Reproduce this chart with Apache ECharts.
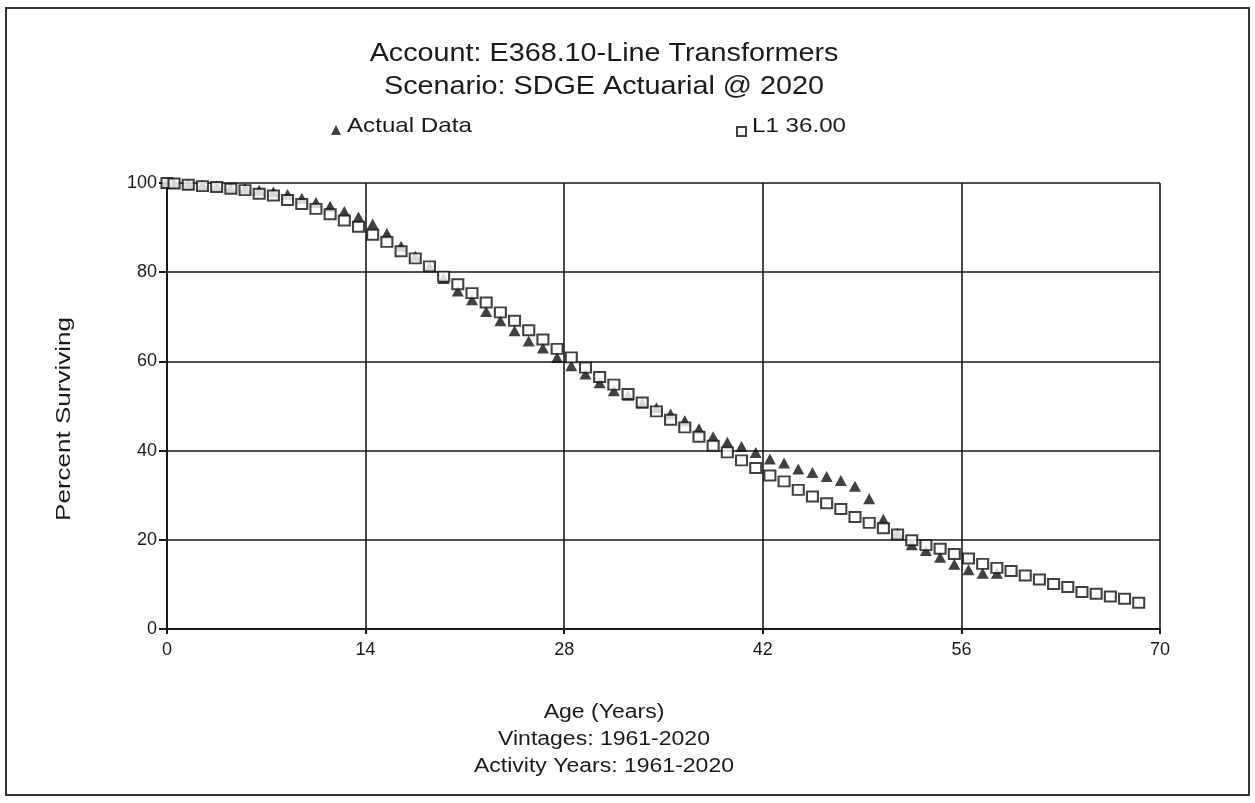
<!DOCTYPE html>
<html>
<head>
<meta charset="utf-8">
<script src="https://cdn.jsdelivr.net/npm/echarts@6/dist/echarts.min.js"></script>
<style>
  html, body { margin: 0; padding: 0; background: #fff; }
  #chart { width: 1255px; height: 803px; }
</style>
</head>
<body>
<div id="chart"></div>
<script>
// Survivor curve: observed retirement data vs. fitted Iowa L1 curve (36-year life)
const titleLines = ['Account: E368.10-Line Transformers', 'Scenario: SDGE Actuarial @ 2020'];
const footerLines = ['Age (Years)', 'Vintages: 1961-2020', 'Activity Years: 1961-2020'];
const yAxisTitle = 'Percent Surviving';
const seriesNames = ['Actual Data', 'L1 36.00'];

const xTicks = [0, 14, 28, 42, 56, 70];
const yTicks = [0, 20, 40, 60, 80, 100];

// Ages (years) and percent surviving, observed
const actualAges = [0, 0.5, 1.5, 2.5, 3.5, 4.5, 5.5, 6.5, 7.5, 8.5, 9.5,
  10.5, 11.5, 12.5, 13.5, 14.5, 15.5, 16.5, 17.5, 18.5, 19.5,
  20.5, 21.5, 22.5, 23.5, 24.5, 25.5, 26.5, 27.5, 28.5, 29.5,
  30.5, 31.5, 32.5, 33.5, 34.5, 35.5, 36.5, 37.5, 38.5, 39.5,
  40.5, 41.5, 42.5, 43.5, 44.5, 45.5, 46.5, 47.5, 48.5, 49.5,
  50.5, 51.5, 52.5, 53.5, 54.5, 55.5, 56.5, 57.5, 58.5];
const actualPct = [100, 99.9, 99.7, 99.5, 99.3, 99.0, 98.8, 98.4, 98.0, 97.4, 96.6,
  95.6, 94.8, 93.6, 92.4, 90.8, 88.7, 85.8, 83.6, 81.2, 78.6,
  75.8, 73.8, 71.2, 69.1, 66.9, 64.6, 63.0, 60.9, 59.0, 57.2,
  55.2, 53.4, 52.4, 50.7, 49.6, 48.2, 46.7, 44.9, 43.1, 41.9,
  40.9, 39.6, 38.1, 37.2, 35.9, 35.1, 34.2, 33.3, 32.0, 29.2,
  24.6, 21.5, 18.9, 17.6, 16.1, 14.5, 13.3, 12.5, 12.5];

// Ages (years) and percent surviving, L1 curve
const curveAges = [0, 0.5, 1.5, 2.5, 3.5, 4.5, 5.5, 6.5, 7.5, 8.5, 9.5,
  10.5, 11.5, 12.5, 13.5, 14.5, 15.5, 16.5, 17.5, 18.5, 19.5,
  20.5, 21.5, 22.5, 23.5, 24.5, 25.5, 26.5, 27.5, 28.5, 29.5,
  30.5, 31.5, 32.5, 33.5, 34.5, 35.5, 36.5, 37.5, 38.5, 39.5,
  40.5, 41.5, 42.5, 43.5, 44.5, 45.5, 46.5, 47.5, 48.5, 49.5,
  50.5, 51.5, 52.5, 53.5, 54.5, 55.5, 56.5, 57.5, 58.5, 59.5,
  60.5, 61.5, 62.5, 63.5, 64.5, 65.5, 66.5, 67.5, 68.5];
const curvePct = [100, 99.9, 99.6, 99.3, 99.1, 98.7, 98.4, 97.6, 97.2, 96.2, 95.3,
  94.2, 93.0, 91.6, 90.2, 88.4, 86.8, 84.7, 83.1, 81.3, 79.0,
  77.3, 75.3, 73.2, 71.0, 69.1, 67.0, 64.9, 62.8, 60.9, 58.6,
  56.5, 54.8, 52.7, 50.8, 48.8, 46.9, 45.2, 43.1, 41.1, 39.6,
  37.8, 36.1, 34.4, 33.1, 31.2, 29.7, 28.2, 26.9, 25.1, 23.8,
  22.6, 21.2, 19.9, 18.8, 18.0, 16.8, 15.8, 14.6, 13.7, 13.0,
  12.0, 11.1, 10.1, 9.4, 8.3, 7.9, 7.3, 6.8, 5.9];

const FONT = '"Liberation Sans", Arial, sans-serif';
const INK = '#1a1a1a';
const STRETCH = 1.15;

function label(text, x, y, size, opts) {
  opts = opts || {};
  return {
    type: 'text',
    x: x, y: y,
    rotation: opts.rotation || 0,
    scaleX: opts.stretch || STRETCH,
    z: 10,
    style: {
      text: text,
      fontSize: size,
      fontFamily: FONT,
      fill: INK,
      align: opts.align || 'center',
      textAlign: opts.align || 'center',
      verticalAlign: 'middle',
      textVerticalAlign: 'middle'
    }
  };
}

const chart = echarts.init(document.getElementById('chart'), null, { renderer: 'canvas' });

const option = {
  backgroundColor: '#ffffff',
  animation: false,
  grid: { left: 167, right: 95, top: 183, bottom: 174, containLabel: false },
  legend: [
    {
      data: [seriesNames[0]], left: 326, top: 120,
      itemWidth: 10, itemHeight: 10,
      formatter: function () { return ''; },
      selectedMode: false
    },
    {
      data: [{ name: seriesNames[1], icon: 'rect' }], left: 731, top: 121,
      itemWidth: 9, itemHeight: 9,
      formatter: function () { return ''; },
      selectedMode: false
    }
  ],
  xAxis: {
    type: 'value', min: xTicks[0], max: xTicks[xTicks.length - 1], interval: 14,
    axisLine: { show: true, onZero: false, lineStyle: { color: INK, width: 2 } },
    axisTick: { show: true, length: 5, lineStyle: { color: INK, width: 2 } },
    axisLabel: { color: INK, fontSize: 18, fontFamily: FONT, margin: 12 },
    splitLine: { show: true, lineStyle: { color: INK, width: 1.6 } }
  },
  yAxis: {
    type: 'value', min: yTicks[0], max: yTicks[yTicks.length - 1], interval: 20,
    axisLine: { show: true, onZero: false, lineStyle: { color: INK, width: 2 } },
    axisTick: { show: true, length: 8, lineStyle: { color: INK, width: 2 } },
    axisLabel: { color: INK, fontSize: 18, fontFamily: FONT, margin: 10 },
    splitLine: { show: true, lineStyle: { color: INK, width: 1.6 } }
  },
  series: [
    {
      name: seriesNames[0],
      type: 'scatter',
      symbol: 'triangle',
      symbolSize: [12, 11],
      itemStyle: { color: '#111111' },
      data: actualAges.map((a, i) => [a, actualPct[i]]),
      z: 3
    },
    {
      name: seriesNames[1],
      type: 'scatter',
      symbol: 'rect',
      symbolSize: [11, 10],
      itemStyle: { color: '#ffffff', borderColor: '#111111', borderWidth: 2 },
      data: curveAges.map((a, i) => [a, curvePct[i]]),
      z: 4
    }
  ],
  graphic: [
    {
      type: 'rect', z: 0, silent: true,
      shape: { x: 6, y: 8, width: 1243, height: 787 },
      style: { fill: 'none', stroke: '#333333', lineWidth: 2 }
    },
    label(titleLines[0], 604, 54, 25),
    label(titleLines[1], 604, 87, 25),
    label(seriesNames[0], 347, 126, 21, { align: 'left' }),
    label(seriesNames[1], 752, 126, 21, { align: 'left' }),
    label(footerLines[0], 604, 712, 20),
    label(footerLines[1], 604, 739, 20),
    label(footerLines[2], 604, 766, 20),
    label(yAxisTitle, 64, 419, 20, { rotation: Math.PI / 2, stretch: 1.3 })
  ]
};

chart.setOption(option);
</script>
</body>
</html>
